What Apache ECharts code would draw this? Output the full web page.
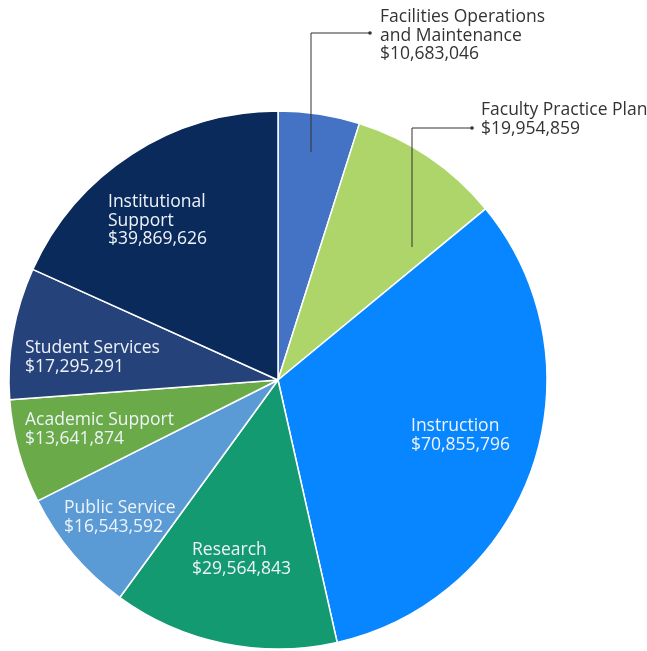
<!DOCTYPE html>
<html>
<head>
<meta charset="utf-8">
<script src="https://cdn.jsdelivr.net/npm/echarts@6/dist/echarts.min.js"></script>
<style>
  html, body { margin: 0; padding: 0; background: #fff; }
  #main { width: 647px; height: 651px; }
</style>
</head>
<body>
<div id="main"></div>
<script>
// categories and values
var names = [
    "Facilities Operations\nand Maintenance",
    "Faculty Practice Plan",
    "Instruction",
    "Research",
    "Public Service",
    "Academic Support",
    "Student Services",
    "Institutional\nSupport"
];
var values = [10683046, 19954859, 70855796, 29564843, 16543592, 13641874, 17295291, 39869626];
var colors = ["#4472c4", "#aed56a", "#0786ff", "#149a70", "#5b9bd5", "#6aaa48", "#26427a", "#0b2a5c"];

// where each label sits (left / top of text block)
var labelPos = [
    [380, 8], [481, 101], [411, 417], [192, 541],
    [64, 499], [25, 411], [25, 339], [108, 193]
];
// leader lines for the two small slices whose labels are outside
var leaders = [
    [[311, 152], [311, 33], [370, 33]],
    [[412, 247], [412, 128], [472, 128]]
];

var myChart = echarts.init(document.getElementById('main'));

var data = [];
for (var i = 0; i < names.length; i++) {
    var outside = i < 2;
    data.push({
        name: names[i],
        value: values[i],
        itemStyle: { color: colors[i] },
        label: {
            color: outside ? "#333" : "#eef3f9"
        }
    });
}

function money(v) {
    return "$" + v.toString().replace(/\B(?=(\d{3})+(?!\d))/g, ",");
}

// leader lines + end dots
var graphics = [];
for (var j = 0; j < leaders.length; j++) {
    var pts = leaders[j];
    var end = pts[pts.length - 1];
    graphics.push({
        type: 'polyline',
        shape: { points: pts },
        style: { stroke: '#333', lineWidth: 1, fill: null },
        z: 10
    });
    graphics.push({
        type: 'circle',
        shape: { cx: end[0], cy: end[1], r: 1.8 },
        style: { fill: '#333' },
        z: 10
    });
}

var option = {
    animation: false,
    graphic: graphics,
    series: [
        {
            type: 'pie',
            center: [278, 380],
            radius: 269,
            startAngle: 90,
            clockwise: true,
            itemStyle: {
                borderColor: '#ffffff',
                borderWidth: 1.5
            },
            label: {
                show: true,
                position: 'inside',
                fontFamily: 'Open Sans',
                fontSize: 17.5,
                lineHeight: 18.5,
                align: 'left',
                formatter: function (p) {
                    return p.name + "\n" + money(p.value);
                }
            },
            labelLine: { show: false },
            labelLayout: function (params) {
                var idx = params.dataIndex;
                return {
                    x: labelPos[idx][0],
                    y: labelPos[idx][1],
                    align: 'left',
                    verticalAlign: 'top'
                };
            },
            data: data
        }
    ]
};
myChart.setOption(option);
</script>
</body>
</html>
